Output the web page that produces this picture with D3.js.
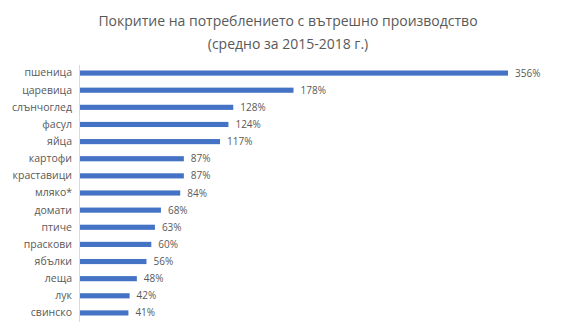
<!DOCTYPE html>
<html><head><meta charset="utf-8">
<script src="https://cdn.jsdelivr.net/npm/d3@7"></script>
<style>body{margin:0;background:#fff}svg{display:block}</style>
</head><body>
<svg id="c" width="576" height="336"></svg>
<script>
const categories = ["пшеница","царевица","слънчоглед","фасул","яйца","картофи","краставици","мляко*","домати","птиче","праскови","ябълки","леща","лук","свинско"];
const values = [356,178,128,124,117,87,87,84,68,63,60,56,48,42,41];
const titleLines = ["Покритие на потреблението с вътрешно производство","(средно за 2015-2018 г.)"];

const svg = d3.select("#c");
const font = "'Open Sans', sans-serif";
const x = d3.scaleLinear().domain([0,356]).range([79,508]);
const y = d3.scaleBand().domain(categories).range([64.5,321.5]).paddingInner(0.7).paddingOuter(0.35);

svg.append("g").selectAll("text").data(titleLines).join("text")
  .attr("x",288).attr("y",(d,i)=>26+i*23)
  .attr("text-anchor","middle").attr("font-family",font).attr("font-size",14)
  .attr("fill","#595959").text(d=>d);

svg.append("g").selectAll("rect").data(values).join("rect")
  .attr("x",x(0)).attr("y",(d,i)=>y(categories[i]))
  .attr("width",d=>x(d)-x(0)).attr("height",y.bandwidth())
  .attr("fill","#4472C4");

const ax = svg.append("g").attr("transform",`translate(${x(0)},0)`)
  .call(d3.axisLeft(y).tickSize(0).tickPadding(7));
ax.select(".domain").attr("stroke","#d9d9d9");
ax.selectAll("text").attr("font-family",font).attr("font-size",10.5).attr("fill","#595959");

svg.append("g").selectAll("text").data(values).join("text")
  .attr("x",d=>x(d)+7).attr("y",(d,i)=>y(categories[i])+y.bandwidth()/2)
  .attr("dy","0.35em").attr("font-family",font).attr("font-size",10)
  .attr("fill","#595959").text(d=>d+"%");
</script>
</body></html>
